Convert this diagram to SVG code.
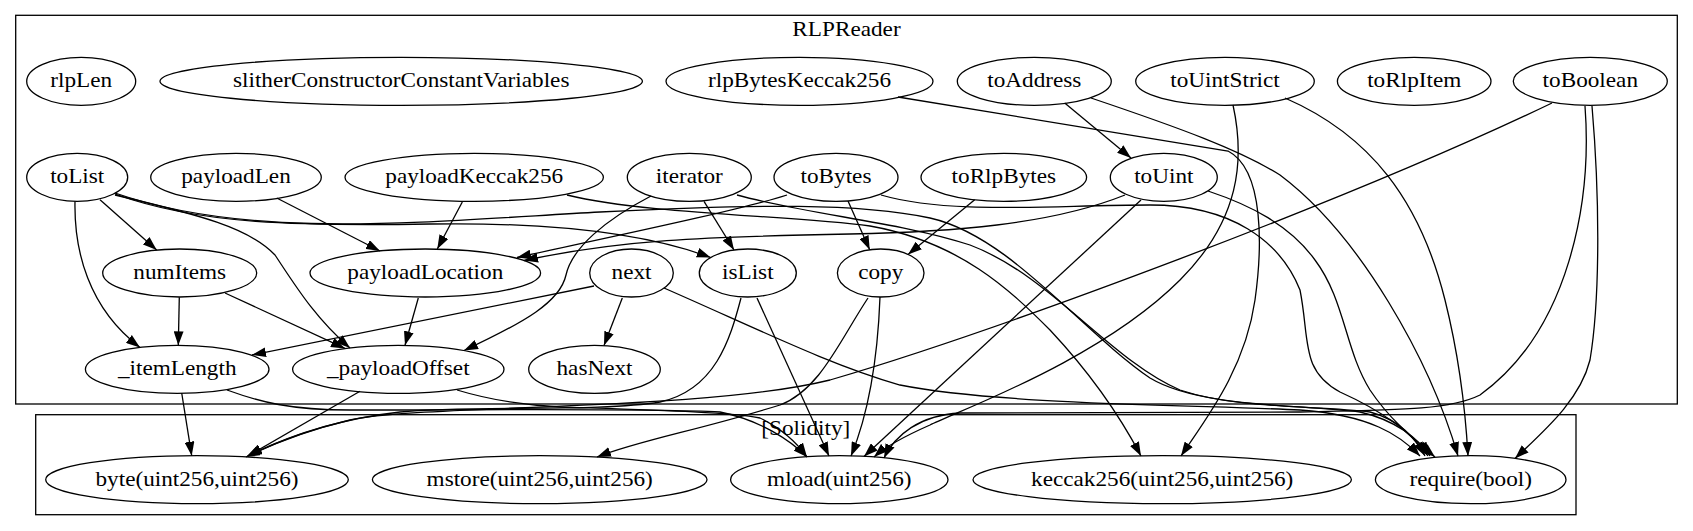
<svg xmlns="http://www.w3.org/2000/svg" width="1693" height="531" viewBox="0 0 1693 531">
<defs>
<style>
.cl{fill:none;stroke:#000;stroke-width:1.3}
.node ellipse{fill:none;stroke:#000;stroke-width:1.3}
text{font-family:"Liberation Serif","Times New Roman",serif;font-size:20px;text-anchor:middle;fill:#000}
#edges path{fill:none;stroke:#000;stroke-width:1.3;marker-end:url(#arr)}
</style>
<marker id="arr" markerUnits="userSpaceOnUse" markerWidth="14" markerHeight="10" viewBox="0 0 13.3 9.4" refX="13.3" refY="4.7" orient="auto">
<path d="M0,0 L13.3,4.7 L0,9.4 z" fill="#000"/>
</marker>
</defs>
<rect width="1693" height="531" fill="#fff"/>
<g id="cluster-RLPReader">
<rect class="cl" x="15.7" y="15.3" width="1661.6" height="388.7"/>
<text transform="matrix(1.161 0 0 1 846.5 36)">RLPReader</text>
</g>
<g id="cluster-Solidity">
<rect class="cl" x="35.7" y="414.7" width="1540.3" height="100"/>
<text transform="matrix(1.161 0 0 1 805.8 435)">[Solidity]</text>
</g>
<g id="edges">
<path d="M100,199.7 L156.7,250"/>
<path d="M75,201.3 C74,250 88,308 140,347.4"/>
<path d="M115,195 C200,215 250,228 275,255 C295,285 315,318 350,348"/>
<path d="M115,194 C200,225 300,226 430,224 C560,222 650,235 710.7,257.5"/>
<path d="M115,193 C250,240 420,222 600,212 C760,204 860,203 930,218 C1010,236 1080,330 1150,378 C1200,408 1300,404 1360,412 C1395,420 1418,438 1430,456"/>
<path d="M276.7,198 L380,251"/>
<path d="M462.3,202 L437.3,249"/>
<path d="M567,195 C650,215 790,215 870,226 C960,242 1010,290 1050,330 C1095,378 1122,420 1141,456"/>
<path d="M704,201.3 L734,250"/>
<path d="M651,196 C605,220 572,248 566,275 C560,302 525,322 464,350.5"/>
<path d="M737,195 C810,215 900,222 970,245 C1050,275 1110,360 1180,390 C1240,410 1320,405 1370,412 C1400,420 1415,438 1425,456"/>
<path d="M848,201 L869.7,249.8"/>
<path d="M787,195 C740,210 620,235 517,257.5"/>
<path d="M881,195 C950,215 1050,205 1150,205 C1230,205 1280,240 1300,290 C1310,340 1300,370 1340,392 C1380,410 1410,430 1428,456"/>
<path d="M974.7,199.7 L908,254.4"/>
<path d="M1125,195 C1050,225 950,232 850,234 C700,237 620,240 524,260.5"/>
<path d="M1141,200 L864,456.4"/>
<path d="M1208,191 C1250,205 1290,225 1315,260 C1345,300 1345,350 1370,390 C1390,420 1415,440 1435,457"/>
<path d="M1064.7,103 L1131,158"/>
<path d="M1091,98 C1180,128 1240,150 1280,175 C1360,235 1430,360 1458,456"/>
<path d="M898,97 L1228,151 C1265,170 1262,250 1255,300 C1245,370 1205,420 1181,456"/>
<path d="M1233,105 C1245,160 1240,220 1180,280 C1100,360 960,410 930,425 C905,436 885,447 874,457"/>
<path d="M1285,98 C1370,135 1420,200 1445,300 C1460,360 1466,420 1468,456"/>
<path d="M1552,103 C1350,200 1000,330 830,380 C700,412 420,404 350,420 C300,432 270,445 246,457"/>
<path d="M1585,106 C1592,200 1570,330 1480,395 C1450,410 1400,410 1300,412 L960,413 C920,415 895,435 884,458"/>
<path d="M1592,106 C1600,200 1600,300 1590,360 C1580,400 1545,430 1515,458.5"/>
<path d="M622.3,298 L604,345.6"/>
<path d="M594,286 L252,355"/>
<path d="M664,288 C760,330 830,365 900,385 C1000,405 1200,405 1300,410 C1370,415 1400,435 1420,456"/>
<path d="M179.3,297.3 L178.3,345.3"/>
<path d="M225,293 L345,348.4"/>
<path d="M418.3,298 L405,345.3"/>
<path d="M181.7,393 L191.7,455.7"/>
<path d="M227,390 C260,402 290,410 350,410 C500,410 650,408 720,412 C760,420 790,440 807,457"/>
<path d="M360,391.3 L248,456"/>
<path d="M457,390 C490,400 520,405 560,407 C650,410 730,412 760,418 C780,428 795,440 807,457"/>
<path d="M741,298 C730,340 715,390 660,402 C600,412 470,405 400,412 C330,420 280,440 248,456"/>
<path d="M757,298 L829,456"/>
<path d="M868,298 C840,340 820,390 780,405 C700,430 640,440 597,457"/>
<path d="M880,297 C878,350 870,410 851,456"/>
</g>
<g id="node-rlpLen" class="node"><ellipse cx="81.2" cy="81.3" rx="54.5" ry="24"/><text transform="matrix(1.161 0 0 1 81.2 87.3)">rlpLen</text></g>
<g id="node-slitherConstructorConstantVariables" class="node"><ellipse cx="401.2" cy="81.3" rx="241.2" ry="24"/><text transform="matrix(1.161 0 0 1 401.2 87.3)">slitherConstructorConstantVariables</text></g>
<g id="node-rlpBytesKeccak256" class="node"><ellipse cx="799.5" cy="81.3" rx="133.5" ry="24"/><text transform="matrix(1.161 0 0 1 799.5 87.3)">rlpBytesKeccak256</text></g>
<g id="node-toAddress" class="node"><ellipse cx="1034.3" cy="81.3" rx="77" ry="24"/><text transform="matrix(1.161 0 0 1 1034.3 87.3)">toAddress</text></g>
<g id="node-toUintStrict" class="node"><ellipse cx="1225" cy="81.3" rx="89.3" ry="24"/><text transform="matrix(1.161 0 0 1 1225 87.3)">toUintStrict</text></g>
<g id="node-toRlpItem" class="node"><ellipse cx="1414.2" cy="81.3" rx="76.8" ry="24"/><text transform="matrix(1.161 0 0 1 1414.2 87.3)">toRlpItem</text></g>
<g id="node-toBoolean" class="node"><ellipse cx="1590.3" cy="81.3" rx="77" ry="24"/><text transform="matrix(1.161 0 0 1 1590.3 87.3)">toBoolean</text></g>
<g id="node-toList" class="node"><ellipse cx="77.2" cy="177.3" rx="50.5" ry="24"/><text transform="matrix(1.161 0 0 1 77.2 183.3)">toList</text></g>
<g id="node-payloadLen" class="node"><ellipse cx="236" cy="177.3" rx="85.3" ry="24"/><text transform="matrix(1.161 0 0 1 236 183.3)">payloadLen</text></g>
<g id="node-payloadKeccak256" class="node"><ellipse cx="474.2" cy="177.3" rx="129.2" ry="24"/><text transform="matrix(1.161 0 0 1 474.2 183.3)">payloadKeccak256</text></g>
<g id="node-iterator" class="node"><ellipse cx="689.3" cy="177.3" rx="62" ry="24"/><text transform="matrix(1.161 0 0 1 689.3 183.3)">iterator</text></g>
<g id="node-toBytes" class="node"><ellipse cx="836" cy="177.3" rx="62" ry="24"/><text transform="matrix(1.161 0 0 1 836 183.3)">toBytes</text></g>
<g id="node-toRlpBytes" class="node"><ellipse cx="1003.8" cy="177.3" rx="82.8" ry="24"/><text transform="matrix(1.161 0 0 1 1003.8 183.3)">toRlpBytes</text></g>
<g id="node-toUint" class="node"><ellipse cx="1163.8" cy="177.3" rx="53.5" ry="24"/><text transform="matrix(1.161 0 0 1 1163.8 183.3)">toUint</text></g>
<g id="node-numItems" class="node"><ellipse cx="179.7" cy="273" rx="77" ry="24"/><text transform="matrix(1.161 0 0 1 179.7 279)">numItems</text></g>
<g id="node-payloadLocation" class="node"><ellipse cx="425.3" cy="273" rx="115.3" ry="24"/><text transform="matrix(1.161 0 0 1 425.3 279)">payloadLocation</text></g>
<g id="node-next" class="node"><ellipse cx="631.5" cy="273" rx="41.8" ry="24"/><text transform="matrix(1.161 0 0 1 631.5 279)">next</text></g>
<g id="node-isList" class="node"><ellipse cx="747.8" cy="273" rx="48.5" ry="24"/><text transform="matrix(1.161 0 0 1 747.8 279)">isList</text></g>
<g id="node-copy" class="node"><ellipse cx="880.7" cy="273" rx="43.3" ry="24"/><text transform="matrix(1.161 0 0 1 880.7 279)">copy</text></g>
<g id="node-_itemLength" class="node"><ellipse cx="177.2" cy="369.3" rx="91.8" ry="24"/><text transform="matrix(1.161 0 0 1 177.2 375.3)">_itemLength</text></g>
<g id="node-_payloadOffset" class="node"><ellipse cx="398.3" cy="369.3" rx="105.7" ry="24"/><text transform="matrix(1.161 0 0 1 398.3 375.3)">_payloadOffset</text></g>
<g id="node-hasNext" class="node"><ellipse cx="594.5" cy="369.3" rx="65.8" ry="24"/><text transform="matrix(1.161 0 0 1 594.5 375.3)">hasNext</text></g>
<g id="node-byte" class="node"><ellipse cx="197" cy="479.7" rx="151.3" ry="24"/><text transform="matrix(1.161 0 0 1 197 485.7)">byte(uint256,uint256)</text></g>
<g id="node-mstore" class="node"><ellipse cx="539.7" cy="479.7" rx="167.3" ry="24"/><text transform="matrix(1.161 0 0 1 539.7 485.7)">mstore(uint256,uint256)</text></g>
<g id="node-mload" class="node"><ellipse cx="839.3" cy="479.7" rx="108.7" ry="24"/><text transform="matrix(1.161 0 0 1 839.3 485.7)">mload(uint256)</text></g>
<g id="node-keccak256" class="node"><ellipse cx="1162.2" cy="479.7" rx="189.2" ry="24"/><text transform="matrix(1.161 0 0 1 1162.2 485.7)">keccak256(uint256,uint256)</text></g>
<g id="node-require" class="node"><ellipse cx="1470.7" cy="479.7" rx="95.3" ry="24"/><text transform="matrix(1.161 0 0 1 1470.7 485.7)">require(bool)</text></g>
</svg>
